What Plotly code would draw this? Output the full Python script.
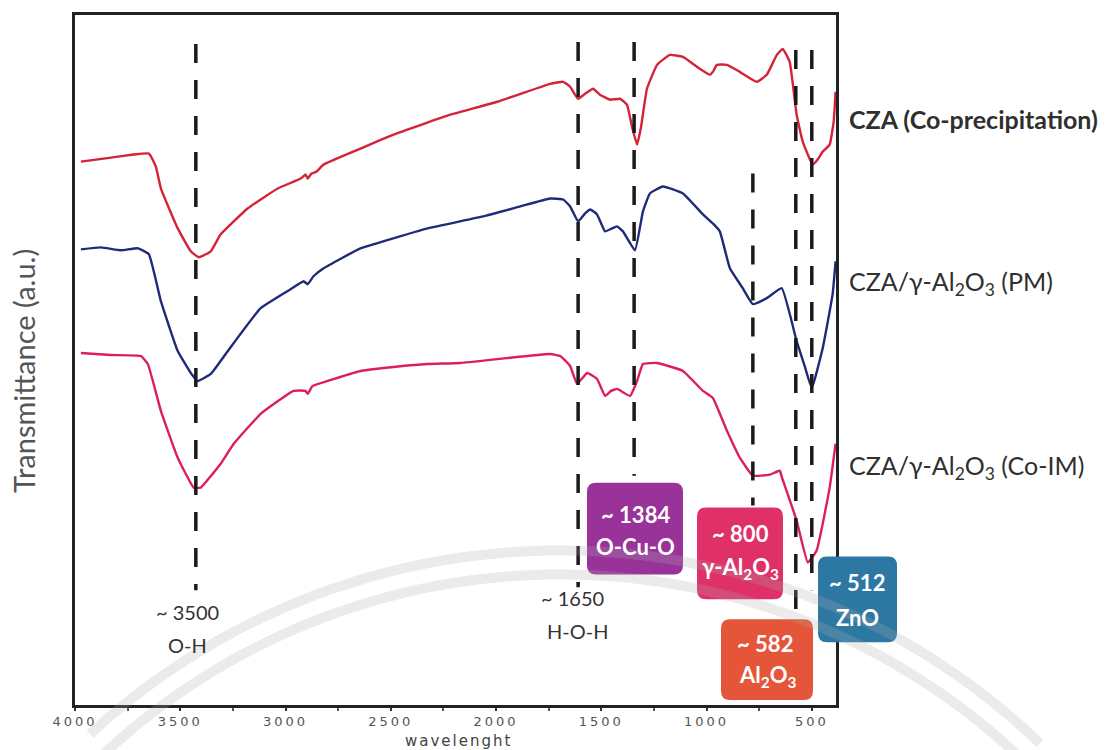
import math
import plotly.graph_objects as go

# ---------------- data (wavenumber in cm-1, transmittance in a.u.) ----------------
wn_cp = [3972, 3829, 3649, 3616, 3592, 3512, 3450, 3412, 3355, 3308, 3180, 3037, 2928, 2905,
         2895, 2876, 2852, 2819, 2644, 2487, 2217, 1994, 1743, 1681, 1648, 1610, 1577, 1539,
         1506, 1458, 1411, 1378, 1354, 1330, 1311, 1283, 1235, 1174, 1112, 1032, 984, 970,
         951, 903, 842, 761, 714, 666, 638, 605, 572, 543, 496, 472, 448, 415, 396, 387]
t_cp = [545, 549, 553, 540, 518, 478, 455, 449, 455, 472, 498, 518, 528, 532,
        528, 533, 535, 542, 558, 572, 592, 605, 623, 625, 620, 608, 613, 618,
        612, 607, 608, 602, 580, 562, 580, 618, 642, 652, 650, 638, 632, 635,
        642, 642, 635, 625, 632, 652, 658, 645, 592, 565, 542, 547, 555, 562, 585, 615]

wn_pm = [3972, 3877, 3782, 3701, 3649, 3592, 3512, 3450, 3417, 3355, 3274, 3118, 2976, 2914,
         2895, 2867, 2819, 2644, 2535, 2326, 2061, 1885, 1743, 1681, 1648, 1610, 1577, 1553,
         1520, 1482, 1449, 1425, 1397, 1340, 1302, 1269, 1207, 1112, 1017, 970, 937, 889,
         828, 780, 714, 643, 572, 534, 500, 448, 401, 387]
t_pm = [457, 459, 456, 458, 452, 405, 355, 333, 325, 332, 355, 398, 417, 425,
        422, 430, 438, 458, 465, 478, 490, 500, 508, 507, 500, 485, 493, 497,
        492, 475, 478, 480, 475, 456, 495, 513, 520, 513, 492, 483, 475, 438,
        418, 402, 408, 418, 365, 340, 318, 358, 412, 445]

wn_im = [3972, 3829, 3687, 3654, 3592, 3512, 3436, 3403, 3308, 3246, 3118, 2962, 2905, 2895,
         2871, 2800, 2644, 2535, 2326, 2170, 1743, 1695, 1648, 1615, 1567, 1520, 1482, 1454,
         1425, 1363, 1330, 1302, 1235, 1112, 1017, 970, 903, 842, 780, 700, 652, 643,
         572, 519, 477, 415, 387]
t_im = [353, 351, 350, 342, 295, 248, 218, 218, 242, 262, 292, 315, 315, 312,
        320, 325, 335, 338, 342, 343, 352, 350, 340, 322, 333, 327, 310, 315,
        317, 310, 325, 342, 343, 335, 315, 308, 275, 248, 230, 231, 235, 229,
        185, 143, 155, 218, 262]

series_names = ["CZA (Co-precipitation)", "CZA/γ-Al<sub>2</sub>O<sub>3</sub> (PM)",
                "CZA/γ-Al<sub>2</sub>O<sub>3</sub> (Co-IM)"]
series_colors = ["#d42237", "#1f2b78", "#dc1f5c"]

# band marker lines
peak_wn = [3426, 1610, 1344, 780, 576, 500]
peak_top = [663, 665, 665, 533, 657, 657]
peak_bottom = [115, 118, 230, 200, 95, 115]

x_ticks = [4000, 3500, 3000, 2500, 2000, 1500, 1000, 500]

# ---------------- layout geometry (pixels) ----------------
W, H = 1105, 750
L, R, T, B = 75, 836, 13, 705


def px(x):
    return (x - L) / (R - L)


def py(y):
    return (B - y) / (B - T)


fig = go.Figure()

for wn, t, name, col in zip([wn_cp, wn_pm, wn_im], [t_cp, t_pm, t_im], series_names, series_colors):
    fig.add_trace(go.Scatter(x=wn, y=t, mode="lines", name=name,
                             line=dict(color=col, width=2.4, shape="spline", smoothing=0.35),
                             showlegend=False, hoverinfo="skip"))

for w, top, bot in zip(peak_wn, peak_top, peak_bottom):
    fig.add_trace(go.Scatter(x=[w, w], y=[top, bot], mode="lines", showlegend=False,
                             line=dict(color="#1a1a1a", width=3.5, dash="19px,17px"),
                             hoverinfo="skip"))


def rrect(x0, y0, x1, y1, r=9):
    rx = r / (R - L)
    ry = r / (B - T)
    a, b, c, d = px(x0), px(x1), py(y0), py(y1)  # c top, d bottom (paper)
    return (f"M {a+rx},{c} L {b-rx},{c} Q {b},{c} {b},{c-ry} L {b},{d+ry} "
            f"Q {b},{d} {b-rx},{d} L {a+rx},{d} Q {a},{d} {a},{d+ry} "
            f"L {a},{c-ry} Q {a},{c} {a+rx},{c} Z")


def arc_path(cx, cy, rad, x_from, x_to, n=60):
    pts = []
    for i in range(n + 1):
        x = x_from + (x_to - x_from) * i / n
        y = cy - math.sqrt(max(rad * rad - (x - cx) ** 2, 0))
        pts.append(f"{px(x)},{py(y)}")
    return "M " + " L ".join(pts)


annotations = []

# faint watermark arcs (decoration)
wm_shapes = []
for rad in (692, 668):
    wm_shapes.append(dict(type="path", xref="paper", yref="paper",
                          path=arc_path(560, 1242, rad, 90, 1040),
                          line=dict(color="rgba(170,170,170,0.24)", width=10), layer="above"))

boxes = [
    ((587, 482, 683, 574), "#9a3399", ["~ 1384", "O-Cu-O"], [(635, 514), (635, 546)]),
    ((697, 507, 783, 599), "#e03068", ["~ 800", "γ-Al<sub>2</sub>O<sub>3</sub>"], [(740, 533), (740, 568)]),
    ((818, 556, 897, 642), "#2d78a3", ["~ 512", "ZnO"], [(857, 582), (857, 617)]),
    ((721, 619, 813, 700), "#e5553a", ["~ 582", "Al<sub>2</sub>O<sub>3</sub>"], [(765, 643), (767, 676)]),
]

box_shapes = []
for (x0, y0, x1, y1), col, texts, poss in boxes:
    box_shapes.append(dict(type="path", xref="paper", yref="paper", path=rrect(x0, y0, x1, y1),
                           fillcolor=col, line=dict(width=0), layer="above"))
    for txt, (tx, ty) in zip(texts, poss):
        annotations.append(dict(xref="paper", yref="paper", x=px(tx), y=py(ty), text=f"<b>{txt}</b>",
                                showarrow=False, font=dict(family="Lato", size=22, color="white"),
                                xanchor="center", yanchor="middle"))
shapes = box_shapes + wm_shapes

# series labels on the right
for name, yy, bold in zip(series_names, [117, 282, 466], [True, False, False]):
    annotations.append(dict(xref="paper", yref="paper", x=px(847), y=py(yy),
                            text=(f"<b>{name}</b>" if bold else name), showarrow=False,
                            xanchor="left", yanchor="middle",
                            font=dict(family="Lato", size=25, color="#2f2f2f")))

# peak assignments
for txt, (tx, ty) in [("~ 3500", (187, 612)), ("O-H", (187, 645)),
                      ("~ 1650", (572, 598)), ("H-O-H", (577, 631))]:
    annotations.append(dict(xref="paper", yref="paper", x=px(tx), y=py(ty), text=txt,
                            showarrow=False, xanchor="center", yanchor="middle",
                            font=dict(family="Lato", size=20, color="#333333")))

# axis titles
annotations.append(dict(xref="paper", yref="paper", x=px(458), y=py(741), text="wavelenght",
                        showarrow=False, xanchor="center", yanchor="middle",
                        font=dict(family="DejaVu Sans", size=15, color="#444444")))
annotations.append(dict(xref="paper", yref="paper", x=px(24), y=py(370), text="Transmittance (a.u.)",
                        showarrow=False, xanchor="center", yanchor="middle", textangle=-90,
                        font=dict(family="Lato", size=29, color="#555555")))

fig.update_layout(
    width=W, height=H,
    margin=dict(l=L, r=W - R, t=T, b=H - B),
    paper_bgcolor="white", plot_bgcolor="white",
    shapes=shapes, annotations=annotations,
    xaxis=dict(range=[4000, 385], tickvals=x_ticks, ticktext=[str(v) for v in x_ticks],
               showgrid=False, zeroline=False, showline=True, linecolor="#222222", linewidth=2.5,
               mirror=True, ticks="outside", ticklen=3, tickwidth=1.5, tickcolor="#333333",
               tickfont=dict(family="DejaVu Sans", size=13, color="#555555"),
               minor=dict(dtick=250, ticks="outside", ticklen=3, tickcolor="#555555")),
    yaxis=dict(range=[0, 692], showticklabels=False, ticks="", showgrid=False, zeroline=False,
               showline=True, linecolor="#222222", linewidth=2.5, mirror=True),
)

post = """
document.body.style.margin = '0px';
document.body.style.padding = '0px';
document.body.style.overflow = 'hidden';
document.querySelectorAll('.xtick text').forEach(function(t){ t.setAttribute('letter-spacing', '3px'); });
document.querySelectorAll('.annotation-text').forEach(function(t){
  if (t.textContent === 'wavelenght') { t.setAttribute('letter-spacing', '2px'); }
});
"""

fig.write_html("out.html", post_script=post, config={"displayModeBar": False})
